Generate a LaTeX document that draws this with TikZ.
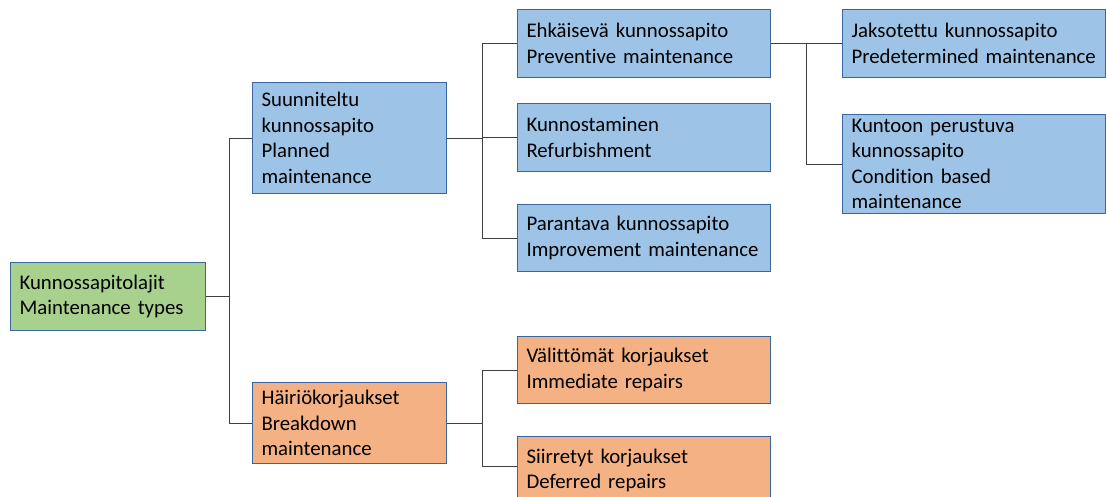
\documentclass[tikz,border=0pt]{standalone}
\usepackage{fontspec}
\setmainfont{Carlito}[Ligatures={NoCommon}]
\hyphenpenalty=10000
\exhyphenpenalty=10000
\definecolor{bluefill}{HTML}{9DC3E6}
\definecolor{greenfill}{HTML}{A9D18E}
\definecolor{orangefill}{HTML}{F4B183}
\definecolor{edgecol}{HTML}{3A66A0}
\definecolor{linecol}{HTML}{3F3F3F}
\begin{document}
\begin{tikzpicture}[x=1pt,y=-1pt,
  box/.style={draw=edgecol, line width=1.1pt, anchor=north west, rectangle,
    inner xsep=9pt, inner ysep=0pt, align=left,
    font=\fontsize{20.8}{25.5}\selectfont, text=black},
  bl/.style={box, fill=bluefill},
  gr/.style={box, fill=greenfill},
  orr/.style={box, fill=orangefill},
  conn/.style={draw=linecol, line width=0.9pt}
]
\useasboundingbox (0,0) rectangle (1106,497);
\fill[white] (0,0) rectangle (1106,497);

\node[gr, text width=177pt, minimum height=68pt] (root) at (10,262) {Kunnossapitolajit\\Maintenance types};

\node[bl, text width=176pt, minimum height=111pt] (plan) at (252,82) {Suunniteltu\\kunnossapito\\Planned\\maintenance};
\node[orr, text width=176pt, minimum height=81pt] (brk) at (252,382) {Häiriökorjaukset\\Breakdown\\maintenance};

\node[bl, text width=235pt, minimum height=68pt] (prev) at (517,9) {Ehkäisevä kunnossapito\\Preventive maintenance};
\node[bl, text width=235pt, minimum height=68pt] (refu) at (517,103) {Kunnostaminen\\Refurbishment};
\node[bl, text width=235pt, minimum height=67pt] (impr) at (517,204) {Parantava kunnossapito\\Improvement maintenance};

\node[bl, text width=245pt, minimum height=68pt] (pred) at (842,9) {Jaksotettu kunnossapito\\Predetermined maintenance};
\node[bl, text width=245pt, minimum height=99pt] (cond) at (842,114) {Kuntoon perustuva\\kunnossapito\\Condition based\\maintenance};

\node[orr, text width=235pt, minimum height=67pt] (imme) at (517,336) {Välittömät korjaukset\\Immediate repairs};
\node[orr, text width=235pt, minimum height=68pt] (defe) at (517,436) {Siirretyt korjaukset\\Deferred repairs};

\coordinate (b0) at (229,0);
\coordinate (b1) at (482,0);
\coordinate (b2) at (806,0);

\draw[conn] (root.east) -- (root.east -| b0);
\draw[conn] (plan.west) -- (plan.west -| b0) |- (brk.west);

\draw[conn] (plan.east) -- (plan.east -| b1);
\draw[conn] (prev.west) -- (prev.west -| b1) |- (impr.west);
\draw[conn] (refu.west) -- (refu.west -| b1);

\draw[conn] (prev.east) -- (pred.west);
\draw[conn] (prev.east -| b2) |- (cond.west);

\draw[conn] (brk.east) -- (brk.east -| b1);
\draw[conn] (imme.west) -- (imme.west -| b1) |- (defe.west |- 0,466);
\end{tikzpicture}
\end{document}
